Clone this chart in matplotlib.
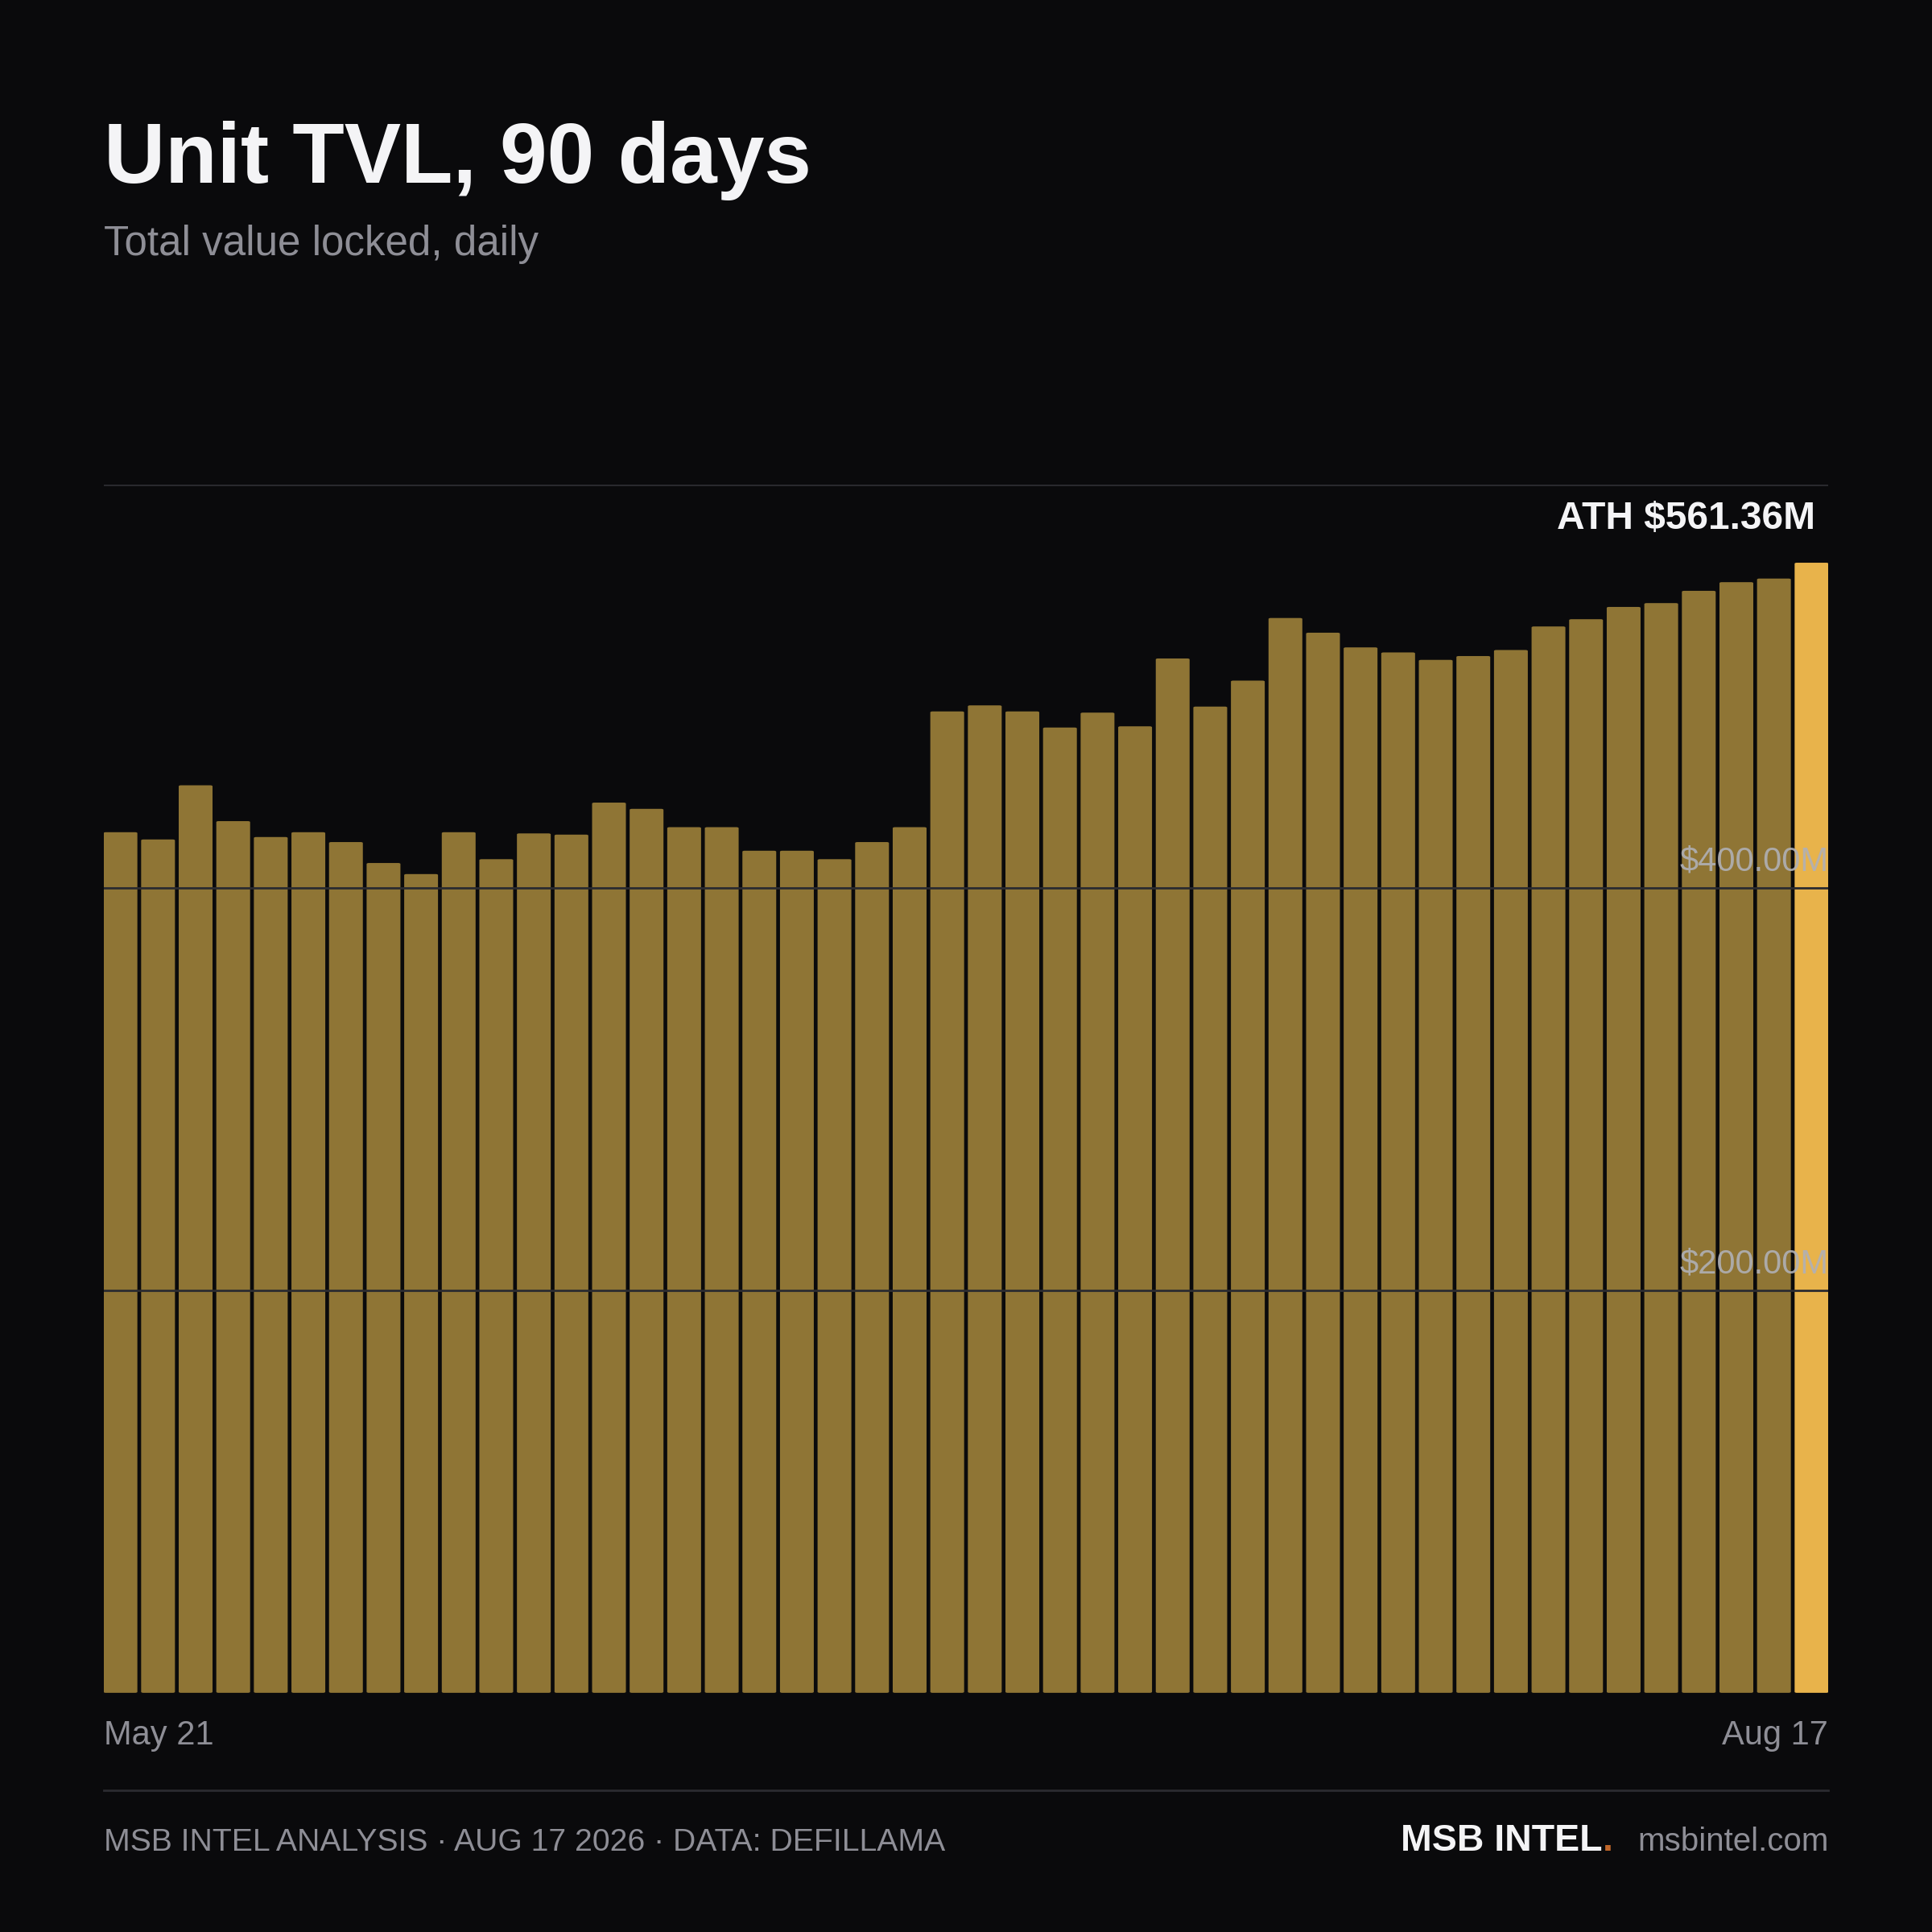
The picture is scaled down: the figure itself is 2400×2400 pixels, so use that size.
import matplotlib.pyplot as plt
from matplotlib.patches import FancyBboxPatch

plt.rcParams['font.family'] = ['Liberation Sans', 'DejaVu Sans']

# daily TVL, $M
tvl = [427.5, 423.9, 450.8, 433.0, 425.1, 427.5, 422.6, 412.2, 406.7, 427.5,
       414.1, 426.9, 426.3, 442.2, 439.1, 430.0, 430.0, 418.3, 418.3, 414.1,
       422.6, 430.0, 487.5, 490.5, 487.5, 479.5, 486.9, 480.1, 513.8, 489.9,
       502.8, 533.9, 526.6, 519.3, 516.8, 513.1, 515.0, 518.0, 529.7, 533.3,
       539.4, 541.3, 547.4, 551.7, 553.5, 561.36]
grid_vals = [200, 400]
grid_labels = ['$200.00M', '$400.00M']
first_day = 'May 21'
last_day = 'Aug 17'
ath_label = 'ATH $561.36M'

BG = '#0a0a0c'
BAR = '#8f7535'
HI = '#e8b34b'
GRID = '#2b2b30'

fig = plt.figure(figsize=(24, 24), dpi=100, facecolor=BG)
ax = fig.add_axes([0.0536, 0.1238, 0.8928, 0.6252])
ax.set_facecolor(BG)

n = len(tvl)
w = 0.9
for i, v in enumerate(tvl):
    c = HI if i == n - 1 else BAR
    ax.add_patch(FancyBboxPatch((i - w / 2, 0), w, v,
                                boxstyle='round,pad=0,rounding_size=0.06',
                                mutation_aspect=8, fc=c, ec='none', zorder=2))

ax.set_xlim(-w / 2, n - 1 + w / 2)
ax.set_ylim(0, 600)
for s in ax.spines.values():
    s.set_visible(False)
ax.set_xticks([])
ax.set_yticks([])

for g, lab in zip(grid_vals, grid_labels):
    ax.axhline(g, color=GRID, lw=2, zorder=3)
    ax.text(1.0, g + 5, lab, transform=ax.get_yaxis_transform(), ha='right', va='bottom',
            fontsize=30, color='#b0b0b6', alpha=0.9, zorder=4)
ax.axhline(600, color=GRID, lw=2, zorder=3)

ax.text(n - 1 + 0.1, tvl[-1] + 13, ath_label, ha='right', va='bottom',
        fontsize=34.5, fontweight='bold', color='#f4f4f6', zorder=4)

# x-axis end labels
ax.text(0, -0.022, first_day, transform=ax.transAxes, ha='left', va='top',
        fontsize=30, color='#8e8e96')
ax.text(1, -0.022, last_day, transform=ax.transAxes, ha='right', va='top',
        fontsize=30, color='#8e8e96')

# title block
fig.text(0.0536, 0.9056, 'Unit TVL, 90 days', ha='left', va='baseline',
         fontsize=76, fontweight='bold', color='#f4f4f6')
fig.text(0.0536, 0.868, 'Total value locked, daily', ha='left', va='baseline',
         fontsize=36.8, color='#8e8e96')

# footer
fig.add_artist(plt.Line2D([0.0536, 0.9464], [0.0733, 0.0733], color='#2b2b30', lw=2))
fig.text(0.0536, 0.042, 'MSB INTEL ANALYSIS · AUG 17 2026 · DATA: DEFILLAMA', ha='left',
         va='baseline', fontsize=28.2, color='#8e8e96')
url = fig.text(0.9464, 0.042, 'msbintel.com', ha='right', va='baseline',
               fontsize=29, color='#8e8e96')
fig.canvas.draw()
bb = url.get_window_extent()
x_end = (bb.x0 - 30) / fig.bbox.width
dot = fig.text(x_end, 0.042, '.', ha='right', va='baseline', fontsize=33.5,
               fontweight='bold', color='#c0662a')
fig.canvas.draw()
bd = dot.get_window_extent()
fig.text(bd.x0 / fig.bbox.width, 0.042, 'MSB INTEL', ha='right', va='baseline',
         fontsize=33.5, fontweight='bold', color='#f4f4f6')

fig.savefig('out.png', dpi=100, facecolor=BG)
